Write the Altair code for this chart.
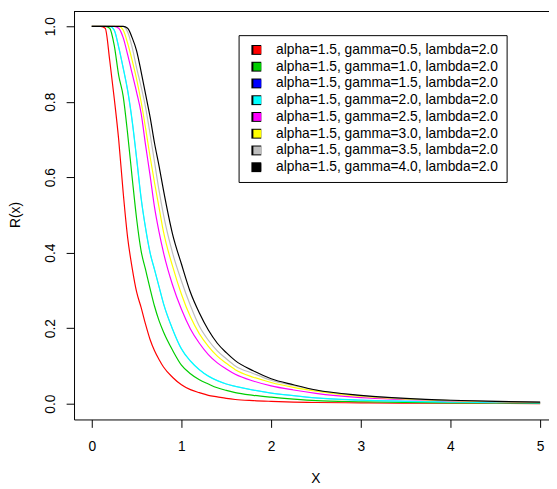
import json
import altair as alt
import pandas as pd

x_vals = [0, 0.1, 0.15, 0.2, 0.25, 0.3, 0.35, 0.4, 0.45, 0.5, 0.55, 0.6, 0.65, 0.7, 0.75, 0.8,
          0.9, 1.0, 1.1, 1.2, 1.3, 1.4, 1.5, 1.6, 1.8, 2.0, 2.25, 2.5, 3.0, 3.5, 4.0, 4.5, 5.0]

r_g05 = [1, 1, 0.995, 0.91, 0.81, 0.70, 0.56, 0.44, 0.36, 0.296, 0.255, 0.21, 0.17, 0.14, 0.117, 0.097,
         0.07, 0.05, 0.037, 0.029, 0.022, 0.018, 0.014, 0.011, 0.008, 0.006, 0.004, 0.003, 0.002, 0.001, 0.001, 0.001, 0.0]
r_g10 = [1, 1, 1, 0.995, 0.95, 0.87, 0.815, 0.715, 0.60, 0.49, 0.405, 0.355, 0.305, 0.258, 0.22, 0.19,
         0.142, 0.102, 0.079, 0.063, 0.052, 0.042, 0.035, 0.029, 0.022, 0.017, 0.012, 0.008, 0.005, 0.003, 0.002, 0.002, 0.001]
r_g15 = [1, 1, 1, 1, 0.99, 0.945, 0.89, 0.83, 0.75, 0.65, 0.545, 0.465, 0.40, 0.355, 0.31, 0.265,
         0.198, 0.145, 0.113, 0.09, 0.073, 0.061, 0.052, 0.046, 0.036, 0.028, 0.021, 0.015, 0.009, 0.007, 0.005, 0.003, 0.002]
r_g20 = [1, 1, 1, 1, 0.99, 0.945, 0.89, 0.83, 0.75, 0.65, 0.545, 0.465, 0.40, 0.355, 0.31, 0.265,
         0.198, 0.145, 0.113, 0.09, 0.073, 0.061, 0.052, 0.046, 0.036, 0.028, 0.021, 0.015, 0.009, 0.006, 0.004, 0.003, 0.002]
r_g25 = [1, 1, 1, 1, 1, 0.995, 0.97, 0.925, 0.875, 0.825, 0.77, 0.685, 0.605, 0.52, 0.455, 0.40,
         0.315, 0.25, 0.198, 0.16, 0.13, 0.108, 0.092, 0.078, 0.06, 0.047, 0.036, 0.027, 0.016, 0.011, 0.007, 0.005, 0.003]
r_g30 = [1, 1, 1, 1, 1, 1, 0.99, 0.955, 0.91, 0.86, 0.80, 0.73, 0.655, 0.585, 0.52, 0.455,
         0.365, 0.29, 0.23, 0.185, 0.152, 0.126, 0.107, 0.09, 0.07, 0.056, 0.043, 0.033, 0.019, 0.012, 0.008, 0.005, 0.003]
r_g35 = [1, 1, 1, 1, 1, 1, 1, 0.985, 0.945, 0.89, 0.84, 0.785, 0.715, 0.64, 0.565, 0.50,
         0.40, 0.325, 0.26, 0.205, 0.168, 0.14, 0.119, 0.10, 0.08, 0.062, 0.048, 0.036, 0.021, 0.013, 0.009, 0.006, 0.004]
r_g40 = [1, 1, 1, 1, 1, 1, 1, 0.995, 0.97, 0.935, 0.88, 0.82, 0.76, 0.69, 0.63, 0.565,
         0.45, 0.37, 0.295, 0.24, 0.195, 0.16, 0.135, 0.114, 0.087, 0.066, 0.05, 0.036, 0.022, 0.014, 0.009, 0.006, 0.004]

labels = [
    "alpha=1.5, gamma=0.5, lambda=2.0",
    "alpha=1.5, gamma=1.0, lambda=2.0",
    "alpha=1.5, gamma=1.5, lambda=2.0",
    "alpha=1.5, gamma=2.0, lambda=2.0",
    "alpha=1.5, gamma=2.5, lambda=2.0",
    "alpha=1.5, gamma=3.0, lambda=2.0",
    "alpha=1.5, gamma=3.5, lambda=2.0",
    "alpha=1.5, gamma=4.0, lambda=2.0",
]
colors = ["#FF0000", "#00CD00", "#0000FF", "#00FFFF", "#FF00FF", "#FFFF00", "#BEBEBE", "#000000"]
line_widths = [1.2, 1.2, 0.35, 1.3, 1.2, 1.2, 1.2, 1.2]
series = [r_g05, r_g10, r_g15, r_g20, r_g25, r_g30, r_g35, r_g40]

x_ticks = [0, 1, 2, 3, 4, 5]
y_ticks = [0.0, 0.2, 0.4, 0.6, 0.8, 1.0]

rows = []
for i, (lab, vals) in enumerate(zip(labels, series)):
    for x, r in zip(x_vals, vals):
        rows.append({"x": x, "R": r, "series": lab, "k": i})
df = pd.DataFrame(rows)

PW, PH = 482, 414
FONT = "Liberation Sans"

x_enc = alt.X("x:Q", scale=alt.Scale(domain=[-0.198, 5.099], nice=False, zero=False),
              axis=alt.Axis(values=x_ticks, format="d", title="X", titleX=245, titleY=64,
                            titleBaseline="alphabetic", labelPadding=13))
y_enc = alt.Y("R:Q", scale=alt.Scale(domain=[-0.042, 1.0392], nice=False, zero=False),
              axis=alt.Axis(values=y_ticks, format=".1f", title="R(x)", labelAngle=270,
                            labelAlign="center", labelBaseline="alphabetic",
                            labelPadding=12, titleX=-55.5, titleY=206, titleAngle=270,
                            titleBaseline="alphabetic", titleAlign="center"))
color_scale = alt.Scale(domain=labels, range=colors)

# under legend: white box, black frame, black key squares and the texts
legend_under = alt.Legend(
    title=None, orient="none", legendX=167, legendY=24, zindex=1,
    symbolType="square", symbolSize=100, symbolOffset=3, labelOffset=13,
    labelFont=FONT, labelFontSize=14, labelColor="black", labelLimit=400,
    labelExpr=json.dumps(labels) + "[datum.value]",
    padding=8, rowPadding=3, strokeColor="black", fillColor="white",
    symbolOpacity=1, symbolStrokeWidth=0, symbolFillColor="black",
)
# top legend: the coloured squares only, on a transparent box
legend_top = alt.Legend(
    title=None, orient="none", legendX=167, legendY=24, zindex=2,
    symbolType="square", symbolSize=64, symbolOffset=4, labelOffset=14,
    labelFont=FONT, labelFontSize=14, labelExpr="' '",
    padding=8, rowPadding=3, strokeColor="transparent", fillColor="transparent",
    symbolOpacity=1, symbolStrokeWidth=0,
)

keys = alt.Chart(df).mark_square(filled=True, opacity=0, size=1).encode(
    x=x_enc, y=y_enc,
    color=alt.Color("series:N", sort=labels, scale=color_scale, legend=legend_top),
)
key_frames = alt.Chart(df).mark_point(filled=True, opacity=0, size=1, color="black").encode(
    x=x_enc, y=y_enc,
    shape=alt.Shape("k:N", scale=alt.Scale(domain=list(range(8)), range=["square"] * 8),
                    legend=legend_under),
)

line_layers = []
for i, lab in enumerate(labels):
    line_layers.append(
        alt.Chart(df).transform_filter(alt.datum.k == i)
        .mark_line(strokeWidth=line_widths[i], interpolate="monotone", clip=True)
        .encode(
            x=x_enc, y=y_enc,
            color=alt.Color("series:N", sort=labels, scale=color_scale, legend=None),
        )
    )

top_line = alt.Chart(pd.DataFrame({"a": [0]})).mark_rule(color="black", strokeWidth=1).encode(
    x=alt.value(0), x2=alt.value(PW), y=alt.value(0)
)

chart = alt.layer(keys, key_frames, *line_layers, top_line).properties(
    width=PW, height=PH,
    autosize=alt.AutoSizeParams(type="none"),
    padding={"left": 67, "top": 0, "right": 0, "bottom": 67},
).configure_view(stroke=None).configure_axis(
    grid=False, domainColor="black", tickColor="black", tickSize=8,
    labelColor="black", labelFont=FONT, labelFontSize=14,
    titleColor="black", titleFont=FONT, titleFontSize=14, titleFontWeight="normal",
)

chart.save("out.html", embed_options={"renderer": "svg", "actions": False})
